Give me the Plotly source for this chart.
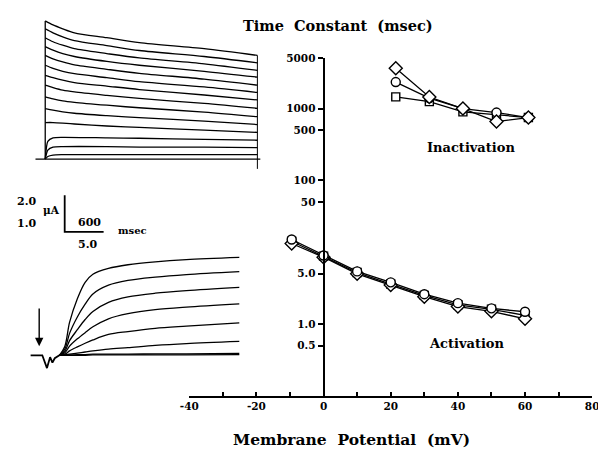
import plotly.graph_objects as go

# ---------------- main chart data ----------------
act_mv = [-9.5, 0, 10, 20, 30, 40, 50, 60]
act_circle = [15.0, 9.0, 5.4, 3.8, 2.6, 1.95, 1.65, 1.48]
act_square = [14.2, 8.8, 5.2, 3.6, 2.5, 1.85, 1.6, 1.32]
act_diamond = [13.2, 8.5, 5.0, 3.5, 2.4, 1.75, 1.5, 1.18]

inact_mv = [21.5, 31.5, 41.5, 51.5, 61]
inact_circle = [2340, 1400, 1000, 880, 750]
inact_square = [1456, 1250, 900, 820, 750]
inact_diamond = [3650, 1450, 1000, 660, 750]

x_tickvals = [-40, -30, -20, -10, 0, 10, 20, 30, 40, 50, 60, 70, 80]
x_ticktext = ["-40", "", "-20", "", "0", "", "20", "", "40", "", "60", "", "80"]
y_tickvals = [5000, 1000, 500, 100, 50, 5, 1, 0.5]
y_ticktext = ["5000", "1000", "500", "100", "50", "5.0", "1.0", "0.5"]

# ---------------- top inset (inactivation currents), ms / uA ----------------
t_top = [0, 120, 270, 450, 950, 1450, 2450, 3270]
t_top_low = [0, 40, 120, 270, 950, 1450, 2450, 3270]
top_traces = [
    [7.57, 7.35, 7.14, 6.92, 6.65, 6.38, 6.05, 5.68],
    [7.14, 6.92, 6.70, 6.49, 6.22, 5.95, 5.62, 5.27],
    [6.65, 6.43, 6.24, 6.05, 5.78, 5.54, 5.22, 4.86],
    [6.16, 5.97, 5.78, 5.62, 5.35, 5.14, 4.81, 4.49],
    [5.68, 5.49, 5.32, 5.16, 4.92, 4.70, 4.38, 4.05],
    [5.14, 4.97, 4.81, 4.68, 4.46, 4.24, 3.95, 3.65],
    [4.59, 4.46, 4.32, 4.19, 4.00, 3.81, 3.51, 3.24],
    [4.05, 3.92, 3.78, 3.68, 3.49, 3.32, 3.05, 2.78],
    [3.41, 3.30, 3.19, 3.11, 2.95, 2.81, 2.57, 2.32],
    [2.76, 2.68, 2.59, 2.51, 2.38, 2.27, 2.08, 1.89],
    [2.00, 2.00, 1.97, 1.92, 1.81, 1.73, 1.59, 1.46],
]
top_traces_low = [
    [0, 0.97, 1.16, 1.19, 1.16, 1.14, 1.08, 1.03],
    [0, 0.49, 0.65, 0.68, 0.68, 0.65, 0.65, 0.62],
    [0, 0.14, 0.22, 0.24, 0.24, 0.24, 0.24, 0.24],
]
top_baseline_t = [-150, 3315]
top_end_t = 3270
top_end_low = -0.54

# ---------------- bottom inset (activation currents), ms / uA ----------------
t_bot = [3.7, 4.4, 5, 6, 7, 8, 10, 12.5, 16, 20, 26.8]
bot_traces = [
    [0, 0.25, 0.90, 1.55, 2.00, 2.22, 2.38, 2.48, 2.56, 2.62, 2.68],
    [0, 0.17, 0.60, 1.05, 1.40, 1.68, 1.92, 2.05, 2.14, 2.21, 2.29],
    [0, 0.11, 0.40, 0.70, 0.98, 1.20, 1.45, 1.60, 1.70, 1.77, 1.86],
    [0, 0.07, 0.25, 0.45, 0.62, 0.78, 1.00, 1.14, 1.25, 1.32, 1.41],
    [0, 0.03, 0.12, 0.23, 0.33, 0.42, 0.57, 0.65, 0.74, 0.80, 0.89],
    [0, 0.01, 0.03, 0.06, 0.09, 0.12, 0.17, 0.21, 0.27, 0.32, 0.38],
    [0, 0.0, 0.01, 0.02, 0.02, 0.03, 0.03, 0.03, 0.04, 0.04, 0.05],
    [0, 0.0, 0.0, 0.0, 0.0, 0.01, 0.01, 0.01, 0.01, 0.01, 0.02],
]
pre_t = [0, 1.5, 2.1, 2.5, 2.8, 3.1, 3.7]
pre_i = [0, 0, -0.35, -0.05, -0.2, -0.08, 0]
arrow_t = 1.1
arrow_from, arrow_to = 1.32, 0.25
bar_t = [4.375, 4.375, 9.375]
bar_i = [4.38, 3.38, 3.38]

OFF = 8          # default page margin of the html body
W, H = 606 - OFF, 452 - OFF
FONT = "DejaVu Serif"


def px(x):
    return (x - OFF) / W


def py(y):
    return 1 - (y - OFF) / H


fig = go.Figure()
blk = "black"


def add_series(xs, ys, symbol, size):
    fig.add_trace(go.Scatter(
        x=xs, y=ys, mode="lines+markers", xaxis="x", yaxis="y",
        line=dict(color=blk, width=1.3),
        marker=dict(symbol=symbol, size=size, color="white",
                    line=dict(color=blk, width=1.4)),
        showlegend=False, cliponaxis=False))


add_series(act_mv, act_square, "square", 8)
add_series(act_mv, act_diamond, "diamond", 10)
add_series(act_mv, act_circle, "circle", 9)
add_series(inact_mv, inact_square, "square", 8)
add_series(inact_mv, inact_circle, "circle", 9)
add_series(inact_mv, inact_diamond, "diamond", 10)

# top inset
line_kw = dict(color=blk, width=1.3)
fig.add_trace(go.Scatter(x=top_baseline_t, y=[0, 0], mode="lines", xaxis="x2", yaxis="y2",
                         line=line_kw, showlegend=False))
fig.add_trace(go.Scatter(x=[0, 0], y=[0, top_traces[0][0]], mode="lines", xaxis="x2", yaxis="y2",
                         line=line_kw, showlegend=False))
fig.add_trace(go.Scatter(x=[top_end_t, top_end_t], y=[top_traces[0][-1], top_end_low], mode="lines",
                         xaxis="x2", yaxis="y2", line=dict(color=blk, width=1.0), showlegend=False))
for tr in top_traces:
    fig.add_trace(go.Scatter(x=t_top, y=tr, mode="lines", xaxis="x2", yaxis="y2",
                             line=dict(color=blk, width=1.3, shape="spline", smoothing=0.8),
                             showlegend=False))
for tr in top_traces_low:
    fig.add_trace(go.Scatter(x=t_top_low, y=tr, mode="lines", xaxis="x2", yaxis="y2",
                             line=dict(color=blk, width=1.3, shape="spline", smoothing=0.6),
                             showlegend=False))

# bottom inset
fig.add_trace(go.Scatter(x=pre_t, y=pre_i, mode="lines", xaxis="x3", yaxis="y3",
                         line=dict(color=blk, width=1.8), showlegend=False))
for tr in bot_traces:
    fig.add_trace(go.Scatter(x=t_bot, y=tr, mode="lines", xaxis="x3", yaxis="y3",
                             line=dict(color=blk, width=1.3, shape="spline", smoothing=0.9),
                             showlegend=False))
fig.add_trace(go.Scatter(x=bar_t, y=bar_i, mode="lines", xaxis="x3", yaxis="y3",
                         line=dict(color=blk, width=1.8), showlegend=False))

hidden = dict(visible=False, showgrid=False, zeroline=False)

x_dom = [px(185), px(599)]
y_pos = x_dom[0] + (0 - (-40)) / 120 * (x_dom[1] - x_dom[0])

fig.update_layout(
    width=W, height=H, margin=dict(l=0, r=0, t=0, b=0),
    paper_bgcolor="white", plot_bgcolor="white",
    font=dict(family=FONT, color=blk),
    xaxis=dict(domain=x_dom, range=[-40, 80], tickvals=x_tickvals, ticktext=x_ticktext,
               ticks="inside", ticklen=4, tickwidth=1.5, tickcolor=blk,
               showline=True, linecolor=blk, linewidth=2, showgrid=False, zeroline=False,
               ticklabeloverflow="allow",
               tickfont=dict(family=FONT, size=10.5, weight="bold"), anchor="y"),
    yaxis=dict(domain=[py(395), py(53)], type="log", range=[-1, 3.699],
               tickvals=y_tickvals, ticktext=y_ticktext, ticks="outside", ticklen=5,
               tickwidth=1.5, tickcolor=blk, showline=True, linecolor=blk, linewidth=2,
               showgrid=False, zeroline=False, anchor="free", position=y_pos,
               tickfont=dict(family=FONT, size=10.5, weight="bold")),
    xaxis2=dict(domain=[px(20), px(265)], range=[-255, 3420], anchor="y2", **hidden),
    yaxis2=dict(domain=[py(170), py(8)], range=[-0.81, 7.95], anchor="x2", **hidden),
    xaxis3=dict(domain=[px(15), px(250)], range=[-0.875, 28.5], anchor="y3", **hidden),
    yaxis3=dict(domain=[py(375), py(180)], range=[-0.568, 4.70], anchor="x3", **hidden),
)

ann = []


def text(x, y, s, size, xanchor="center"):
    ann.append(dict(x=px(x), y=py(y), xref="paper", yref="paper", text="<b>" + s + "</b>",
                    showarrow=False, xanchor=xanchor, yanchor="middle",
                    font=dict(family=FONT, size=size, color=blk)))


text(338, 20, "Time&nbsp; Constant&nbsp; (msec)", 14.5)
text(352, 439, "Membrane&nbsp; Potential&nbsp; (mV)", 15.5)
text(474, 143, "Inactivation", 13)
text(470, 342, "Activation", 13)
text(18, 198, "2.0", 11)
text(18, 220, "1.0", 11)
text(43, 207, "μA", 10.5)
text(83, 219, "600", 11)
text(80, 242, "5.0", 11)
text(127, 227, "msec", 10)

ann.append(dict(x=arrow_t, y=arrow_to, ax=arrow_t, ay=arrow_from, xref="x3", yref="y3",
                axref="x3", ayref="y3", showarrow=True, arrowhead=2, arrowsize=1.2,
                arrowwidth=1.4, arrowcolor=blk, text=""))
fig.update_layout(annotations=ann)

fig.write_html("out.html")
